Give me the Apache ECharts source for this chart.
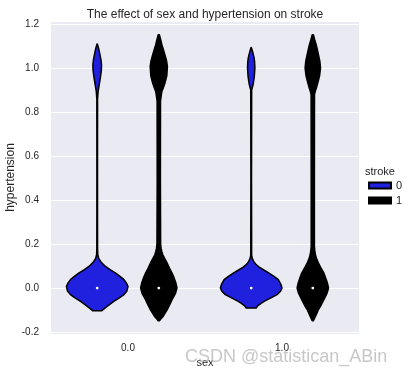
<!DOCTYPE html>
<html><head><meta charset="utf-8">
<script src="https://cdn.jsdelivr.net/npm/echarts@6/dist/echarts.min.js"></script>
<style>html,body{margin:0;padding:0;background:#fff}#c{width:410px;height:375px}</style>
</head><body><div id="c"></div>
<script>
// ---- data ----
const categories = ['0.0', '1.0'];
const hues = ['0', '1'];
const hueColors = ['#2020DF', '#000000'];
const yTicks = [-0.2, 0.0, 0.2, 0.4, 0.6, 0.8, 1.0, 1.2];
// violin profiles: [hypertension value, relative half-width (1 = widest violin)]
const violin_sex0_stroke0 = [[-0.103,0.15],[-0.095,0.22],[-0.084,0.32],[-0.072,0.43],[-0.061,0.54],[-0.045,0.72],[-0.03,0.87],[-0.015,0.96],[0.007,1.0],[0.022,0.95],[0.038,0.87],[0.053,0.74],[0.068,0.60],[0.083,0.43],[0.098,0.27],[0.11,0.18],[0.121,0.11],[0.135,0.05],[0.151,0.02],[0.18,0.012],[0.5,0.01],[0.86,0.012],[0.894,0.03],[0.924,0.065],[0.962,0.11],[0.99,0.135],[1.015,0.14],[1.04,0.12],[1.068,0.08],[1.09,0.045],[1.11,0.005]];
const violin_sex0_stroke1 = [[-0.149,0.02],[-0.14,0.07],[-0.129,0.14],[-0.115,0.2],[-0.099,0.27],[-0.075,0.36],[-0.053,0.43],[-0.025,0.54],[0.0,0.59],[0.025,0.55],[0.045,0.5],[0.068,0.43],[0.09,0.35],[0.114,0.27],[0.135,0.19],[0.151,0.13],[0.165,0.1],[0.18,0.075],[0.2,0.06],[0.5,0.052],[0.85,0.055],[0.871,0.075],[0.894,0.1],[0.912,0.15],[0.932,0.2],[0.965,0.26],[1.007,0.28],[1.035,0.25],[1.06,0.2],[1.083,0.15],[1.106,0.1],[1.13,0.06],[1.151,0.02]];
const violin_sex1_stroke0 = [[-0.091,0.16],[-0.08,0.22],[-0.07,0.32],[-0.061,0.42],[-0.045,0.64],[-0.03,0.84],[-0.015,0.95],[0.0,1.0],[0.018,0.96],[0.038,0.88],[0.053,0.74],[0.068,0.58],[0.082,0.41],[0.095,0.26],[0.108,0.15],[0.121,0.08],[0.135,0.035],[0.15,0.015],[0.5,0.01],[0.9,0.015],[0.924,0.06],[0.96,0.10],[1.0,0.12],[1.03,0.11],[1.05,0.09],[1.072,0.05],[1.094,0.005]];
const violin_sex1_stroke1 = [[-0.149,0.02],[-0.139,0.05],[-0.129,0.085],[-0.115,0.13],[-0.099,0.18],[-0.075,0.28],[-0.053,0.36],[-0.025,0.46],[0.0,0.51],[0.025,0.47],[0.045,0.42],[0.068,0.36],[0.09,0.27],[0.114,0.18],[0.135,0.12],[0.151,0.085],[0.17,0.065],[0.189,0.052],[0.5,0.052],[0.879,0.055],[0.894,0.08],[0.912,0.12],[0.932,0.16],[0.965,0.22],[1.0,0.25],[1.03,0.23],[1.06,0.185],[1.083,0.15],[1.106,0.11],[1.13,0.06],[1.151,0.02]];
const medians_stroke0 = [0.0, 0.0];
const medians_stroke1 = [0.0, 0.0];

const profiles = [[violin_sex0_stroke0, violin_sex1_stroke0], [violin_sex0_stroke1, violin_sex1_stroke1]];
const medians = [medians_stroke0, medians_stroke1];
const hueOffsets = [-0.2, 0.2];
const FONT = 'Liberation Sans, Arial, sans-serif';
const TXT = '#262626';

function makeRender(h) {
  return function (params, api) {
    const cat = api.value(0);
    const prof = profiles[h][cat];
    const band = api.size([1, 0])[0];
    const cx = api.coord([cat, 0])[0] + hueOffsets[h] * band;
    const maxHalf = 0.2 * band;
    const right = prof.map(p => [cx + p[1] * maxHalf, api.coord([cat, p[0]])[1]]);
    const left = prof.slice().reverse().map(p => [cx - p[1] * maxHalf, api.coord([cat, p[0]])[1]]);
    const my = api.coord([cat, api.value(1)])[1];
    return {
      type: 'group',
      children: [
        { type: 'polygon', shape: { points: right.concat(left) },
          style: { fill: hueColors[h], stroke: '#000', lineWidth: 1.5, lineJoin: 'round' } },
        { type: 'circle', shape: { cx: cx, cy: my, r: 1.4 }, style: { fill: '#fff' } }
      ]
    };
  };
}

const chart = echarts.init(document.getElementById('c'));
chart.setOption({
  animation: false,
  title: { text: 'The effect of sex and hypertension on stroke', left: 'center', top: 4,
    textStyle: { fontSize: 12, fontWeight: 'normal', color: TXT, fontFamily: FONT } },
  grid: { left: 51, right: 51, top: 21, bottom: 41, show: true, backgroundColor: '#EAEAF2', borderWidth: 0,
    containLabel: false, outerBoundsMode: 'none' },
  legend: {
    orient: 'vertical', left: 363, top: 175, itemWidth: 22, itemHeight: 6, itemGap: 4,
    data: hues.map(h => ({ name: h, icon: 'rect' })),
    textStyle: { fontSize: 11, color: TXT, fontFamily: FONT }
  },
  xAxis: {
    type: 'category', data: categories,
    axisLine: { show: false }, axisTick: { show: false },
    axisLabel: { color: TXT, fontSize: 10, fontFamily: FONT, margin: 9 },
    name: 'sex', nameLocation: 'middle', nameGap: 23, nameMoveOverlap: false,
    nameTextStyle: { color: TXT, fontSize: 11, fontFamily: FONT }
  },
  yAxis: {
    type: 'value', min: -0.209, max: 1.214, minInterval: 0.2, maxInterval: 0.2,
    axisLine: { show: false }, axisTick: { show: false },
    axisLabel: { color: TXT, fontSize: 10, fontFamily: FONT, margin: 12,
      formatter: v => yTicks.some(t => Math.abs(t - v) < 1e-6) ? v.toFixed(1) : '' },
    splitLine: { lineStyle: { color: '#ffffff', width: 1 } },
    name: 'hypertension', nameLocation: 'middle', nameGap: 34, nameMoveOverlap: false,
    nameTextStyle: { color: TXT, fontSize: 12, fontFamily: FONT }
  },
  graphic: [
    { type: 'text', left: 365, top: 166, style: { text: 'stroke', font: '11px ' + FONT, fill: TXT } },
    { type: 'text', left: 185, top: 348, z: 100, style: { text: 'CSDN @statistican_ABin', font: '18px ' + FONT, fill: 'rgba(185,185,185,0.8)' } }
  ],
  series: hues.map((h, i) => ({
    type: 'custom', name: h,
    itemStyle: { color: hueColors[i], borderColor: '#000', borderWidth: 1 },
    renderItem: makeRender(i),
    data: categories.map((c, k) => [k, medians[i][k]])
  }))
});
</script></body></html>
